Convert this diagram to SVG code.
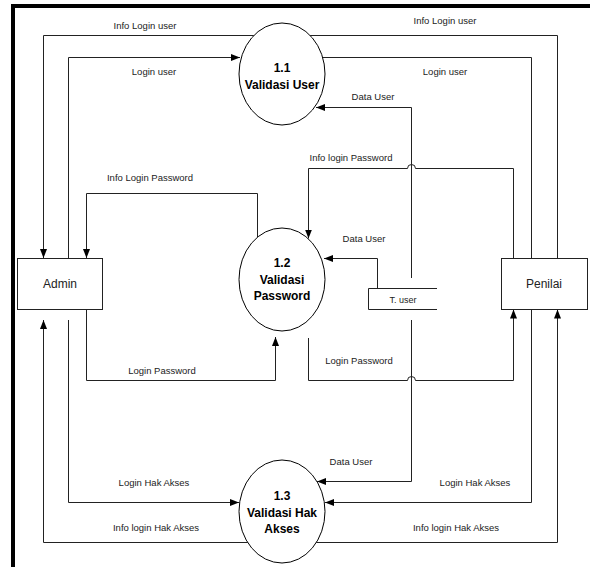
<svg xmlns="http://www.w3.org/2000/svg" width="590" height="567" viewBox="0 0 590 567">
  <defs>
    <marker id="arr" markerUnits="userSpaceOnUse" markerWidth="10" markerHeight="8" refX="9" refY="3.5" orient="auto">
      <path d="M0,0 L9,3.5 L0,7 z" fill="#000"/>
    </marker>
  </defs>
  <style>
    .frame { fill: none; stroke: #000; stroke-width: 4; }
    .flow { fill: none; stroke: #222; stroke-width: 1; }
    .arrow { marker-end: url(#arr); }
    .proc { fill: #fff; stroke: #000; stroke-width: 1; }
    .ent { fill: #fff; stroke: #222; stroke-width: 1; }
    .store { fill: none; stroke: #222; stroke-width: 1; }
    .lbl { font-family: "Liberation Sans", Arial, sans-serif; font-size: 9.5px; fill: #222; text-anchor: middle; }
    .ptxt { font-family: "Liberation Sans", Arial, sans-serif; font-size: 12px; font-weight: bold; fill: #000; text-anchor: middle; }
    .etxt { font-family: "Liberation Sans", Arial, sans-serif; font-size: 12px; fill: #222; text-anchor: middle; }
    .stxt { font-family: "Liberation Sans", Arial, sans-serif; font-size: 9px; fill: #222; text-anchor: middle; }
  </style>
  <rect width="590" height="567" fill="#fff"/>
  <path class="frame" d="M13,567 V6 H590"/>

  <g id="connectors">
    <path class="flow arrow" d="M255,35.5 H43.5 V258"/>
    <path class="flow arrow" d="M68.5,258 V57.5 H240"/>
    <path class="flow" d="M310,35.5 H557.5 V258"/>
    <path class="flow" d="M531.5,258 V57.5 H323"/>
    <path class="flow arrow" d="M411.5,278 V107.5 H316"/>
    <path class="flow arrow" d="M513.5,258 V168.5 H415.5 A4,4 0 0 0 407.5,168.5 H308.5 V238.5"/>
    <path class="flow arrow" d="M257.5,237 V193.5 H86.5 V258"/>
    <path class="flow arrow" d="M377.5,288 V258.5 H324"/>
    <path class="flow arrow" d="M86.5,309 V380.5 H275.5 V337"/>
    <path class="flow arrow" d="M308.5,338 V380.5 H407.5 A4,4 0 0 1 415.5,380.5 H513.5 V309.5"/>
    <path class="flow arrow" d="M411.5,320 V481.5 H317"/>
    <path class="flow arrow" d="M531.5,309 V502.5 H325"/>
    <path class="flow arrow" d="M316,542.5 H557.5 V309.5"/>
    <path class="flow arrow" d="M68.5,320 V502.5 H239"/>
    <path class="flow arrow" d="M248,542.5 H43.5 V320"/>

    <text class="lbl" x="145" y="29">Info Login user</text>
    <text class="lbl" x="154" y="75">Login user</text>
    <text class="lbl" x="445" y="23.5">Info Login user</text>
    <text class="lbl" x="445" y="75">Login user</text>
    <text class="lbl" x="373" y="100">Data User</text>
    <text class="lbl" x="351" y="161">Info login Password</text>
    <text class="lbl" x="150" y="181">Info Login Password</text>
    <text class="lbl" x="364" y="242">Data User</text>
    <text class="lbl" x="162" y="374">Login Password</text>
    <text class="lbl" x="359" y="364">Login Password</text>
    <text class="lbl" x="351" y="465">Data User</text>
    <text class="lbl" x="475" y="486">Login Hak Akses</text>
    <text class="lbl" x="154" y="486">Login Hak Akses</text>
    <text class="lbl" x="456" y="531">Info login Hak Akses</text>
    <text class="lbl" x="156" y="531">Info login Hak Akses</text>
  </g>

  <g id="p11">
    <ellipse class="proc" cx="282" cy="74" rx="43" ry="51"/>
    <text class="ptxt" x="282" y="72">1.1</text>
    <text class="ptxt" x="282" y="89">Validasi User</text>
  </g>
  <g id="p12">
    <ellipse class="proc" cx="282" cy="279.5" rx="43" ry="51.5"/>
    <text class="ptxt" x="282" y="267">1.2</text>
    <text class="ptxt" x="282" y="284">Validasi</text>
    <text class="ptxt" x="282" y="300">Password</text>
  </g>
  <g id="p13">
    <ellipse class="proc" cx="282" cy="511.5" rx="43" ry="51.5"/>
    <text class="ptxt" x="282" y="500">1.3</text>
    <text class="ptxt" x="282" y="517">Validasi Hak</text>
    <text class="ptxt" x="282" y="533">Akses</text>
  </g>
  <g id="admin">
    <rect class="ent" x="17.5" y="258.5" width="85" height="51"/>
    <text class="etxt" x="60" y="288">Admin</text>
  </g>
  <g id="penilai">
    <rect class="ent" x="501.5" y="258.5" width="86" height="51"/>
    <text class="etxt" x="544" y="288">Penilai</text>
  </g>
  <g id="tuser">
    <path class="store" d="M437,288.5 H368.5 V309.5 H437"/>
    <text class="stxt" x="403" y="303">T. user</text>
  </g>
</svg>
